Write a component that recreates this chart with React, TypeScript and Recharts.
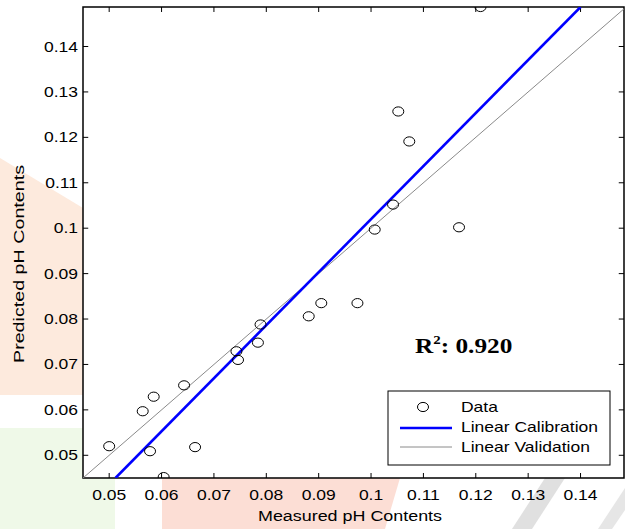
import React from 'react';
import { ComposedChart, Scatter, XAxis, YAxis, ReferenceLine, ReferenceArea } from 'recharts';

// Measured vs predicted pH contents
const measured = [0.05, 0.0564, 0.0585, 0.0578, 0.0604, 0.0643, 0.0664, 0.0743, 0.0746, 0.0784, 0.0789, 0.0881, 0.0905, 0.0974, 0.1007, 0.1042, 0.1052, 0.1073, 0.1168, 0.1209];
const predicted = [0.052, 0.0597, 0.0629, 0.0509, 0.0452, 0.0654, 0.0518, 0.0729, 0.071, 0.0748, 0.0788, 0.0806, 0.0835, 0.0835, 0.0997, 0.1052, 0.1257, 0.1191, 0.1002, 0.1487];

// Fitted lines (end points)
const calibrationX = [0.0512, 0.14];
const calibrationY = [0.045, 0.1487];
const validationX = [0.045, 0.1483];
const validationY = [0.045, 0.1483];

const xTicks = [0.05, 0.06, 0.07, 0.08, 0.09, 0.1, 0.11, 0.12, 0.13, 0.14];
const yTicks = [0.05, 0.06, 0.07, 0.08, 0.09, 0.1, 0.11, 0.12, 0.13, 0.14];
const xDomain = [0.045, 0.1483];
const yDomain = [0.045, 0.1487];
// inward tick length, in data units
const xTickLen = 0.001;
const yTickLen = 0.0011;

const xTitle = 'Measured pH Contents';
const yTitle = 'Predicted pH Contents';
const r2Label = '0.920';
const legendLabels = ['Data', 'Linear Calibration', 'Linear Validation'];

const FONT = '"Liberation Sans", Arial, sans-serif';
const SERIF = '"Liberation Serif", "Times New Roman", serif';

const dataPts = measured.map((x, i) => ({ x, y: predicted[i] }));
const calibPts = calibrationX.map((x, i) => ({ x, y: calibrationY[i] }));
const validPts = validationX.map((x, i) => ({ x, y: validationY[i] }));

const XTick = (props: any) => {
  const { x, y, payload } = props;
  return (
    <g transform={`translate(${x},${y + 22})`}>
      <text transform="scale(1.25,1)" textAnchor="middle" fontSize={14} fontFamily={FONT} fill="#000">
        {String(payload.value)}
      </text>
    </g>
  );
};

const YTick = (props: any) => {
  const { x, y, payload } = props;
  return (
    <g transform={`translate(${x - 5},${y + 5})`}>
      <text transform="scale(1.25,1)" textAnchor="end" fontSize={14} fontFamily={FONT} fill="#000">
        {String(payload.value)}
      </text>
    </g>
  );
};

const Circle = (props: any) => {
  const { cx, cy } = props;
  if (cx == null || cy == null) return <g />;
  return <ellipse cx={cx} cy={cy} rx={5.5} ry={4.6} fill="none" stroke="#000" strokeWidth={1} />;
};

const NoShape = () => <g />;

export default function App() {
  const tickSegs: any[] = [];
  xTicks.forEach((t) => {
    tickSegs.push([{ x: t, y: yDomain[0] }, { x: t, y: yDomain[0] + yTickLen }]);
    tickSegs.push([{ x: t, y: yDomain[1] }, { x: t, y: yDomain[1] - yTickLen }]);
  });
  yTicks.forEach((t) => {
    tickSegs.push([{ x: xDomain[0], y: t }, { x: xDomain[0] + xTickLen, y: t }]);
    tickSegs.push([{ x: xDomain[1], y: t }, { x: xDomain[1] - xTickLen, y: t }]);
  });
  return (
    <div style={{ position: 'absolute', left: 0, top: 0, width: 625, height: 529, background: '#fff', overflow: 'hidden' }}>
      {/* faint watermark shapes outside the plot */}
      <svg width={625} height={529} style={{ position: 'absolute', left: 0, top: 0 }}>
        <polygon points="0,158 83,208 83,395 0,395" fill="#fdeadd" />
        <polygon points="0,428 83,428 83,478 115,478 115,529 0,529" fill="#eff9e8" />
        <polygon points="162,478 400,478 385,529 162,529" fill="#fcded5" />
        <polygon points="512,529 545,478 565,478 532,529" fill="#e0e0e0" />
        <polygon points="598,529 625,488 625,510 612,529" fill="#e6e6e6" />
      </svg>
      <div style={{ position: 'absolute', left: 0, top: 0 }}>
        <ComposedChart width={625} height={529} margin={{ top: 7, right: 1, bottom: 0, left: 0 }}>
          <XAxis
            xAxisId="b"
            type="number"
            dataKey="x"
            orientation="bottom"
            domain={xDomain}
            allowDataOverflow
            ticks={xTicks}
            interval={0}
            height={51}
            tickSize={0}
            tickMargin={0}
            axisLine={false}
            tickLine={false}
            tick={<XTick />}
          />
          <YAxis
            yAxisId="l"
            type="number"
            dataKey="y"
            orientation="left"
            domain={yDomain}
            allowDataOverflow
            ticks={yTicks}
            interval={0}
            width={83}
            tickSize={0}
            tickMargin={0}
            axisLine={false}
            tickLine={false}
            tick={<YTick />}
          />
          <Scatter
            xAxisId="b"
            yAxisId="l"
            data={validPts}
            line={{ stroke: '#8a8a8a', strokeWidth: 1 }}
            shape={<NoShape />}
            isAnimationActive={false}
          />
          <Scatter
            xAxisId="b"
            yAxisId="l"
            data={calibPts}
            line={{ stroke: '#0000ff', strokeWidth: 2.6 }}
            shape={<NoShape />}
            isAnimationActive={false}
          />
          <Scatter
            xAxisId="b"
            yAxisId="l"
            data={dataPts}
            shape={<Circle />}
            isAnimationActive={false}
          />
          {tickSegs.map((seg, i) => (
            <ReferenceLine
              key={'t' + i}
              xAxisId="b"
              yAxisId="l"
              segment={seg}
              stroke="#000"
              strokeWidth={1}
              ifOverflow="visible"
            />
          ))}
          <ReferenceArea
            xAxisId="b"
            yAxisId="l"
            x1={xDomain[0]}
            x2={xDomain[1]}
            y1={yDomain[0]}
            y2={yDomain[1]}
            fill="none"
            fillOpacity={0}
            stroke="#000"
            strokeWidth={1.5}
            strokeOpacity={1}
            ifOverflow="visible"
          />
        </ComposedChart>
      </div>
      {/* annotations */}
      <svg width={625} height={529} style={{ position: 'absolute', left: 0, top: 0, pointerEvents: 'none' }}>
        <text
          x={350}
          y={521}
          textAnchor="middle"
          fontSize={14}
          fontFamily={FONT}
          fill="#000"
          textLength={184}
          lengthAdjust="spacingAndGlyphs"
        >
          {xTitle}
        </text>
        <text
          transform="translate(24,264) rotate(-90)"
          textAnchor="middle"
          fontSize={14}
          fontFamily={FONT}
          fill="#000"
          textLength={198}
          lengthAdjust="spacingAndGlyphs"
        >
          {yTitle}
        </text>
        <g transform="translate(415,353) scale(1.15,1)">
          <text x={0} y={0} fontSize={22} fontWeight="bold" fontFamily={SERIF} fill="#000">
            R
            <tspan fontSize={13} dy={-9}>2</tspan>
            <tspan dy={9}>{': ' + r2Label}</tspan>
          </text>
        </g>
        <rect x={388} y={391} width={222} height={74} fill="#fff" stroke="#000" strokeWidth={1} />
        <ellipse cx={423} cy={407} rx={5.5} ry={4.6} fill="none" stroke="#000" strokeWidth={1} />
        <line x1={400} x2={452} y1={428} y2={428} stroke="#0000ff" strokeWidth={2.6} />
        <line x1={400} x2={452} y1={447} y2={447} stroke="#8a8a8a" strokeWidth={1} />
        {legendLabels.map((t, i) => (
          <g key={t} transform={`translate(461,${412 + i * 20})`}>
            <text transform="scale(1.25,1)" fontSize={14} fontFamily={FONT} fill="#000">
              {t}
            </text>
          </g>
        ))}
      </svg>
    </div>
  );
}
